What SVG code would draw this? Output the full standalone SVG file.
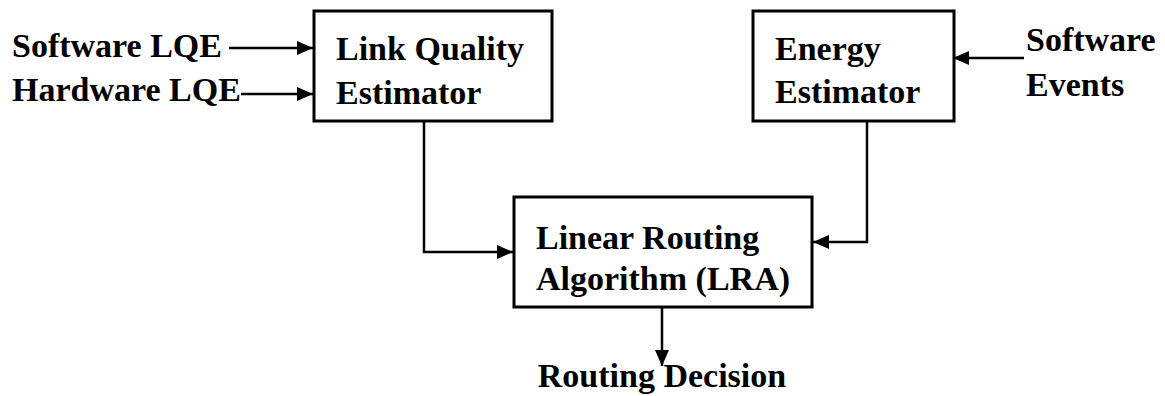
<svg xmlns="http://www.w3.org/2000/svg" width="1165" height="396" viewBox="0 0 1165 396">
  <style>
    .box { fill: #ffffff; stroke: #000000; stroke-width: 3; }
    .lbl { font-family: "Liberation Serif", "Times New Roman", "DejaVu Serif", serif; font-weight: 700; font-size: 34px; fill: #000000; }
    .wire { fill: none; stroke: #000000; stroke-width: 2.5; }
  </style>
  <defs>
    <marker id="arrow" viewBox="0 0 16 14" refX="16" refY="7" markerWidth="16" markerHeight="14" markerUnits="userSpaceOnUse" orient="auto">
      <path d="M0,0 L16,7 L0,14 Z" fill="#000000"/>
    </marker>
  </defs>
  <rect width="1165" height="396" fill="#ffffff"/>

  <!-- inputs -->
  <g id="software-lqe">
    <text class="lbl" x="12" y="57">Software LQE</text>
  </g>
  <g id="hardware-lqe">
    <text class="lbl" x="12" y="101">Hardware LQE</text>
  </g>
  <g id="software-events">
    <text class="lbl" x="1026" y="51">Software</text>
    <text class="lbl" x="1026" y="96">Events</text>
  </g>

  <!-- estimators -->
  <g id="link-quality-estimator">
    <rect class="box" x="314" y="11" width="238" height="110"/>
    <text class="lbl" x="336" y="60">Link Quality</text>
    <text class="lbl" x="336" y="104">Estimator</text>
  </g>
  <g id="energy-estimator">
    <rect class="box" x="753" y="11" width="201" height="110"/>
    <text class="lbl" x="775" y="60">Energy</text>
    <text class="lbl" x="775" y="103">Estimator</text>
  </g>

  <!-- routing -->
  <g id="linear-routing-algorithm">
    <rect class="box" x="514" y="197" width="298" height="110"/>
    <text class="lbl" x="536" y="249">Linear Routing</text>
    <text class="lbl" x="536" y="290">Algorithm (LRA)</text>
  </g>
  <g id="routing-decision">
    <text class="lbl" x="662" y="387" text-anchor="middle">Routing Decision</text>
  </g>

  <g id="connectors">
    <line class="wire" x1="229" y1="48" x2="313" y2="48" marker-end="url(#arrow)"/>
    <line class="wire" x1="241" y1="94" x2="313" y2="94" marker-end="url(#arrow)"/>
    <line class="wire" x1="1024" y1="58" x2="953" y2="58" marker-end="url(#arrow)"/>
    <polyline class="wire" points="424,121 424,252 513,252" marker-end="url(#arrow)"/>
    <polyline class="wire" points="867,121 867,242 813,242" marker-end="url(#arrow)"/>
    <line class="wire" x1="662" y1="307" x2="662" y2="366" marker-end="url(#arrow)"/>
  </g>
</svg>
